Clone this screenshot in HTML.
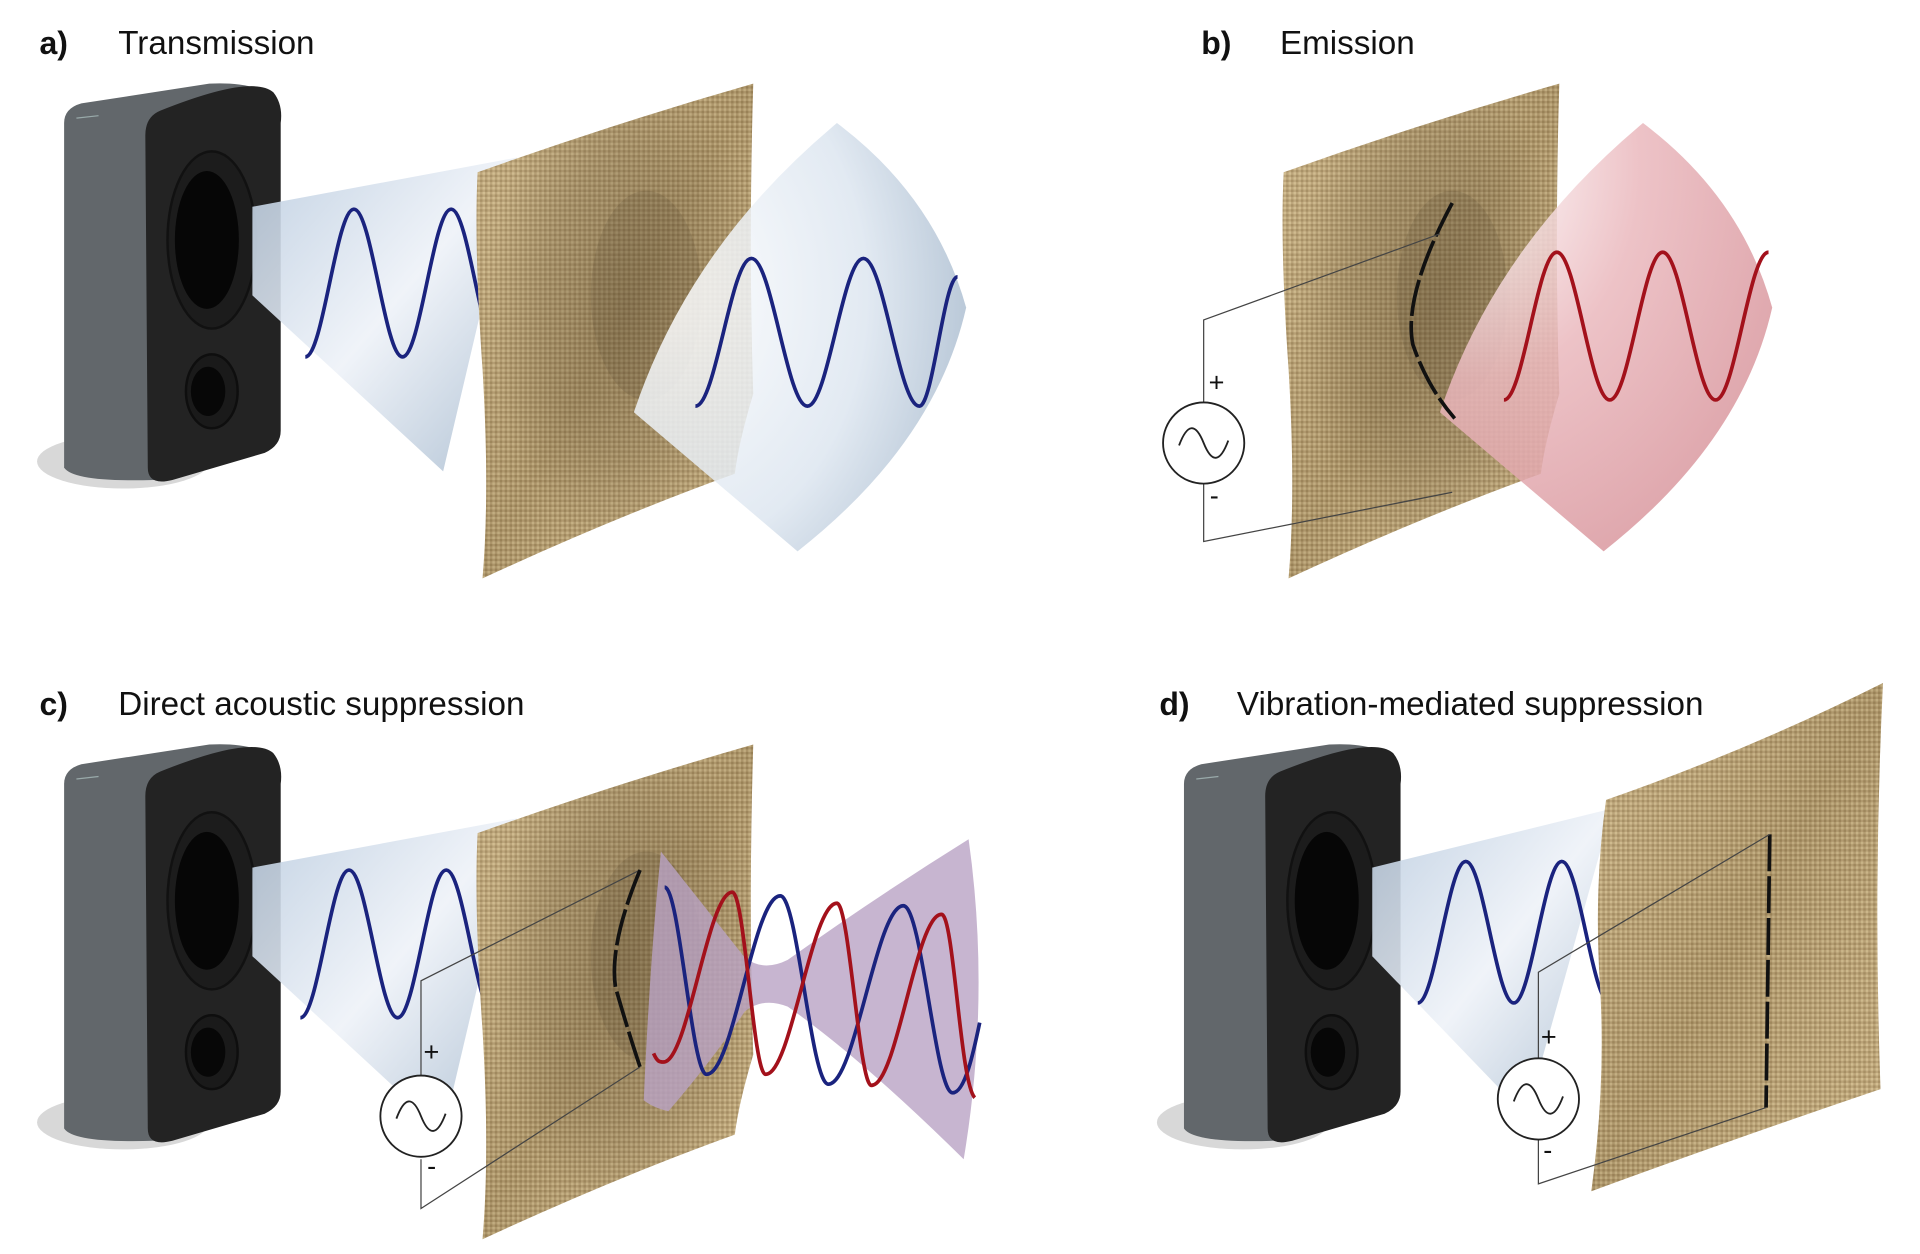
<!DOCTYPE html>
<html><head><meta charset="utf-8"><style>
html,body{margin:0;padding:0;background:#fff;width:1920px;height:1254px;overflow:hidden}
svg{display:block}
text{font-family:"Liberation Sans",sans-serif;fill:#111}
</style></head><body>
<svg width="1920" height="1254" viewBox="0 0 1560 1019" xmlns="http://www.w3.org/2000/svg">
<defs>
<pattern id="weave" width="4" height="4" patternUnits="userSpaceOnUse">
<rect width="4" height="4" fill="#bba274"/>
<rect width="2" height="2" fill="#d2bc8c"/><rect x="2" y="2" width="2" height="2" fill="#a58c5e"/>
</pattern>
<radialGradient id="dent" cx="0.55" cy="0.45" r="0.5">
<stop offset="0" stop-color="#5a4a30" stop-opacity="0.35"/><stop offset="0.6" stop-color="#5a4a30" stop-opacity="0.2"/><stop offset="1" stop-color="#5a4a30" stop-opacity="0"/>
</radialGradient>
<linearGradient id="shade" x1="0" y1="0" x2="1" y2="1">
<stop offset="0" stop-color="#fff" stop-opacity="0.08"/><stop offset="0.5" stop-color="#3a2e1c" stop-opacity="0.12"/><stop offset="1" stop-color="#fff" stop-opacity="0.05"/>
</linearGradient>
<linearGradient id="blueC" x1="0" y1="0" x2="1" y2="1">
<stop offset="0" stop-color="#bccde0"/><stop offset="0.5" stop-color="#eef2f8"/><stop offset="1" stop-color="#a9bcd0"/>
</linearGradient>
<radialGradient id="blueR" cx="0.1" cy="0.4" r="1">
<stop offset="0" stop-color="#fff"/><stop offset="0.6" stop-color="#dde6f0"/><stop offset="1" stop-color="#9fb3c8"/>
</radialGradient>
<radialGradient id="redR" cx="0.1" cy="0.1" r="1">
<stop offset="0" stop-color="#fff"/><stop offset="0.5" stop-color="#eab8bd"/><stop offset="1" stop-color="#d9979e"/>
</radialGradient>
<g id="speaker">
<ellipse cx="100" cy="375" rx="70" ry="22" fill="#d8d8d8"/>
<path d="M52,100 Q52,88 66,84 L170,68 Q210,66 225,82 L225,360 L125,390 Q60,392 52,380 Z" fill="#62676b"/>
<path d="M130,90 Q205,60 222,75 Q230,85 228,100 L228,350 Q228,362 215,368 L140,390 Q120,395 120,380 L118,110 Q118,95 130,90 Z" fill="#232323"/>
<ellipse cx="172" cy="195" rx="36" ry="72" fill="#1c1c1c" stroke="#111" stroke-width="2"/>
<ellipse cx="168" cy="195" rx="26" ry="56" fill="#060606"/>
<ellipse cx="172" cy="318" rx="21" ry="30" fill="#1a1a1a" stroke="#0e0e0e" stroke-width="2"/>
<ellipse cx="169" cy="318" rx="14" ry="20" fill="#070707"/>
<path d="M62,96 L80,94" stroke="#9aa" stroke-width="1"/>
</g>
<g id="cloth">
<path d="M388,140 Q500,100 612,68 Q608,200 612,320 Q600,360 597,385 Q500,420 392,470 Q398,400 392,300 Q385,200 388,140 Z" fill="url(#weave)"/>
<path d="M388,140 Q500,100 612,68 Q608,200 612,320 Q600,360 597,385 Q500,420 392,470 Q398,400 392,300 Q385,200 388,140 Z" fill="url(#shade)"/>
<path d="M388,140 Q500,100 612,68 Q608,200 612,320 Q600,360 597,385 Q500,420 392,470 Q398,400 392,300 Q385,200 388,140 Z" fill="url(#dent)"/>
<ellipse cx="525" cy="240" rx="45" ry="85" fill="#4a3c25" opacity="0.15"/>
</g>
</defs>

<!-- Panel a -->
<text x="32" y="44" font-size="26" font-weight="bold">a)</text>
<text x="96" y="44" font-size="27">Transmission</text>
<use href="#speaker"/>
<path d="M205,168 L420,128 L360,383 L205,240 Z" fill="url(#blueC)" opacity="0.9"/>
<path d="M248,290 c14.3,0 25.2,-120 39.5,-120 s25.2,120 39.5,120 s25.2,-120 39.5,-120 s25.2,120 39.5,120" fill="none" stroke="#1a237e" stroke-width="3"/>
<use href="#cloth"/>
<path d="M515,335 Q560,200 680,100 Q760,160 785,250 Q760,360 648,448 Z" fill="url(#blueR)" opacity="0.85"/>
<path d="M565,330 c16.5,0 29,-120 45.5,-120 s29,120 45.5,120 s29,-120 45.5,-120 s29,120 45.5,120 c11,0 20,-105 31,-105" fill="none" stroke="#1a237e" stroke-width="3"/>

<!-- Panel b -->
<text x="976" y="44" font-size="26" font-weight="bold">b)</text>
<text x="1040" y="44" font-size="27">Emission</text>
<g transform="translate(655,0)"><use href="#cloth"/></g>
<path d="M1170,335 Q1215,200 1335,100 Q1415,160 1440,250 Q1415,360 1303,448 Z" fill="url(#redR)" opacity="0.85"/>
<path d="M1222,325 c15.6,0 27.4,-120 43,-120 s27.4,120 43,120 s27.4,-120 43,-120 s27.4,120 43,120 s27.4,-120 43,-120" fill="none" stroke="#a3111b" stroke-width="3"/>
<path d="M1180,165 Q1140,240 1148,280 Q1160,315 1182,340" fill="none" stroke="#111" stroke-width="3" stroke-dasharray="30,4"/>
<path d="M978,327 L978,260 L1170,190 M978,393 L978,440 L1180,400" fill="none" stroke="#444" stroke-width="1"/>
<circle cx="978" cy="360" r="33" fill="#fff" stroke="#222" stroke-width="1.5"/>
<path d="M958,362 Q968,335 978,360 Q988,385 998,358" fill="none" stroke="#222" stroke-width="1.5"/>
<text x="982" y="318" font-size="22">+</text><text x="983" y="410" font-size="22">-</text>

<!-- Panel c -->
<text x="32" y="581" font-size="26" font-weight="bold">c)</text>
<text x="96" y="581" font-size="27">Direct acoustic suppression</text>
<g transform="translate(0,537)">
<use href="#speaker"/>
<path d="M205,168 L420,128 L360,383 L205,240 Z" fill="url(#blueC)" opacity="0.9"/>
<path d="M244,290 c14.3,0 25.2,-120 39.5,-120 s25.2,120 39.5,120 s25.2,-120 39.5,-120 s25.2,120 39.5,120" fill="none" stroke="#1a237e" stroke-width="3"/>
<use href="#cloth"/>
<path d="M342,340 L342,260 L520,170 M342,405 L342,445 L520,330" fill="none" stroke="#444" stroke-width="1"/>
<path d="M520,170 Q495,230 500,265 Q510,300 520,330" fill="none" stroke="#111" stroke-width="3" stroke-dasharray="30,4"/>
<circle cx="342" cy="370" r="33" fill="#fff" stroke="#222" stroke-width="1.5"/>
<path d="M322,372 Q332,345 342,370 Q352,395 362,368" fill="none" stroke="#222" stroke-width="1.5"/>
<text x="344" y="325" font-size="22">+</text><text x="347" y="418" font-size="22">-</text>
</g>
<path d="M537,692 Q575,740 605,778 Q620,790 640,780 Q710,730 787,682 Q805,810 783,942 Q700,860 640,818 Q620,810 605,822 Q580,860 543,903 Q530,900 523,894 Q528,780 537,692 Z" fill="#b9a2c4" opacity="0.8"/>
<path d="M540,721 C552,721 562,873 574,873 C596,873 612,728 634,728 C648,728 659,881 673,881 C695,881 712,736 734,736 C749,736 760,888 774,888 C784,888 791,855 796,831" fill="none" stroke="#1a237e" stroke-width="3"/>
<path d="M531,856 C534,863 536,863 539,863 C559,863 575,725 595,725 C605,725 612,873 622,873 C643,873 659,734 680,734 C690,734 698,882 708,882 C729,882 744,743 765,743 C775,743 780,880 792,892" fill="none" stroke="#a3111b" stroke-width="3"/>

<!-- Panel d -->
<text x="942" y="581" font-size="26" font-weight="bold">d)</text>
<text x="1005" y="581" font-size="27">Vibration-mediated suppression</text>
<g transform="translate(910,537)">
<use href="#speaker"/>
<path d="M205,168 L400,120 L330,370 L205,240 Z" fill="url(#blueC)" opacity="0.9"/>
</g>
<path d="M1152,815 c14,0 25,-115 39,-115 s25,115 39,115 s25,-115 39,-115 s25,115 39,115" fill="none" stroke="#1a237e" stroke-width="3"/>
<path d="M1305,650 Q1420,610 1530,555 Q1522,720 1528,885 Q1410,925 1293,968 Q1305,880 1300,800 Q1295,720 1305,650 Z" fill="url(#weave)"/>
<path d="M1305,650 Q1420,610 1530,555 Q1522,720 1528,885 Q1410,925 1293,968 Q1305,880 1300,800 Q1295,720 1305,650 Z" fill="url(#shade)"/>
<path d="M1438,678 L1435,900" stroke="#111" stroke-width="3" stroke-dasharray="30,4"/>
<path d="M1250,860 L1250,790 L1438,678 M1250,925 L1250,962 L1435,900" fill="none" stroke="#444" stroke-width="1"/>
<circle cx="1250" cy="893" r="33" fill="#fff" stroke="#222" stroke-width="1.5"/>
<path d="M1230,895 Q1240,868 1250,893 Q1260,918 1270,891" fill="none" stroke="#222" stroke-width="1.5"/>
<text x="1252" y="850" font-size="22">+</text><text x="1254" y="942" font-size="22">-</text>
</svg>
</body></html>
